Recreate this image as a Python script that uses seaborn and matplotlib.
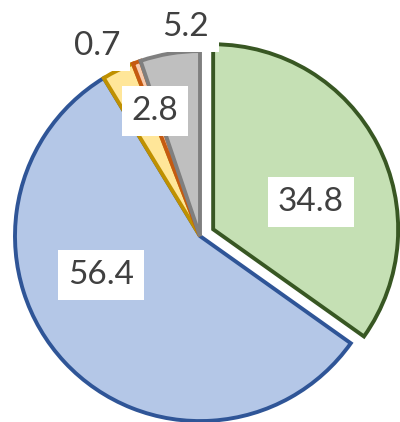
import matplotlib
matplotlib.use("Agg")
import matplotlib.pyplot as plt
import seaborn as sns

# données (sens horaire depuis midi)
categories = ["A", "B", "C", "D", "E"]
valeurs = [34.8, 56.4, 2.8, 0.7, 5.2]
etiquettes = ["34.8", "56.4", "2.8", "0.7", "5.2"]
couleurs_fond = ["#C5E0B4", "#B4C7E7", "#FFE699", "#F8CBAD", "#BFBFBF"]
couleurs_bord = ["#385723", "#2F5597", "#BF9000", "#C55A11", "#7F7F7F"]
eclatement = [0.08, 0, 0, 0, 0]

# positions des étiquettes (unités du camembert, rayon = 1)
pos_etiquettes = [(0.60, 0.184), (-0.535, -0.211), (-0.243, 0.676),
                  (-0.557, 1.027), (-0.076, 1.13)]

sns.set_style("white")
plt.rcParams["font.family"] = ["Lato", "DejaVu Sans"]

fig = plt.figure(figsize=(4.0, 4.22), dpi=100)
ax = fig.add_axes([0, 0, 1, 1])

wedges, _ = ax.pie(
    valeurs,
    colors=couleurs_fond,
    explode=eclatement,
    startangle=90,
    counterclock=False,
    radius=1,
)
for w, c in zip(wedges, couleurs_bord):
    w.set_edgecolor(c)
    w.set_linewidth(2.8)
    w.set_joinstyle("miter")

for txt, (x, y) in zip(etiquettes, pos_etiquettes):
    ax.text(x, y, txt, ha="center", va="center", fontsize=24, color="#404040",
            bbox=dict(boxstyle="square,pad=0.3", fc="white", ec="none"))

ax.set_xlim(-1.081, 1.081)
ax.set_ylim(-1.005, 1.276)
ax.set_aspect("equal")
ax.axis("off")

fig.savefig("out.png", dpi=100, facecolor="white")
